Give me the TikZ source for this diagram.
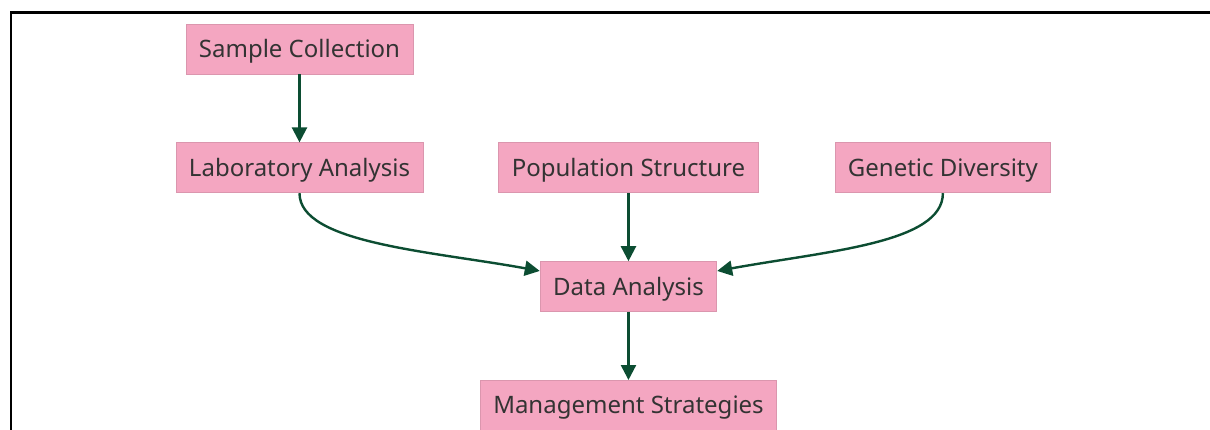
\documentclass[tikz,border=0pt]{standalone}
\usepackage{fontspec}
\setmainfont{Noto Sans}
\usepackage{xcolor}
\usepackage{tikz}
\usetikzlibrary{positioning,arrows.meta}
\definecolor{boxpink}{RGB}{244,166,193}
\definecolor{boxedge}{RGB}{219,150,174}
\definecolor{boxtext}{RGB}{51,51,51}
\definecolor{flowgreen}{RGB}{12,77,50}
\tikzset{
  box/.style  = {draw=boxedge, fill=boxpink, text=boxtext, line width=0.8pt,
                 minimum height=50pt, inner xsep=13pt, text height=17pt, text depth=0pt,
                 font=\fontsize{24}{28}\selectfont},
  flow/.style = {-{Triangle[length=15pt, width=15pt]}, line width=2.4pt, draw=flowgreen},
}
\begin{document}
\begin{tikzpicture}[x=1pt, y=1pt, node distance=68pt and 75pt]
  \useasboundingbox (0,0) rectangle (1210,-430);
  % frame along the top and left edge
  \draw[line width=2.2pt] (11,-430) -- (11,-12.5) -- (1210,-12.5);

  \node[box] (sample) at (299.5,-49) {Sample Collection};
  \node[box, below=of sample] (lab) {Laboratory Analysis};
  \node[box, right=of lab] (popstruct) {Population Structure};
  \node[box, right=76pt of popstruct] (gendiv) {Genetic Diversity};
  \node[box, below=of popstruct] (data) {Data Analysis};
  \node[box, below=of data] (mgmt) {Management Strategies};

  \draw[flow] (sample) -- (lab);
  \draw[flow] (lab.south) .. controls +(0,-50) and +(-110,20) .. (data.170);
  \draw[flow] (popstruct) -- (data);
  \draw[flow] (gendiv.south) .. controls +(0,-50) and +(110,20) .. (data.10);
  \draw[flow] (data) -- (mgmt);
\end{tikzpicture}
\end{document}
